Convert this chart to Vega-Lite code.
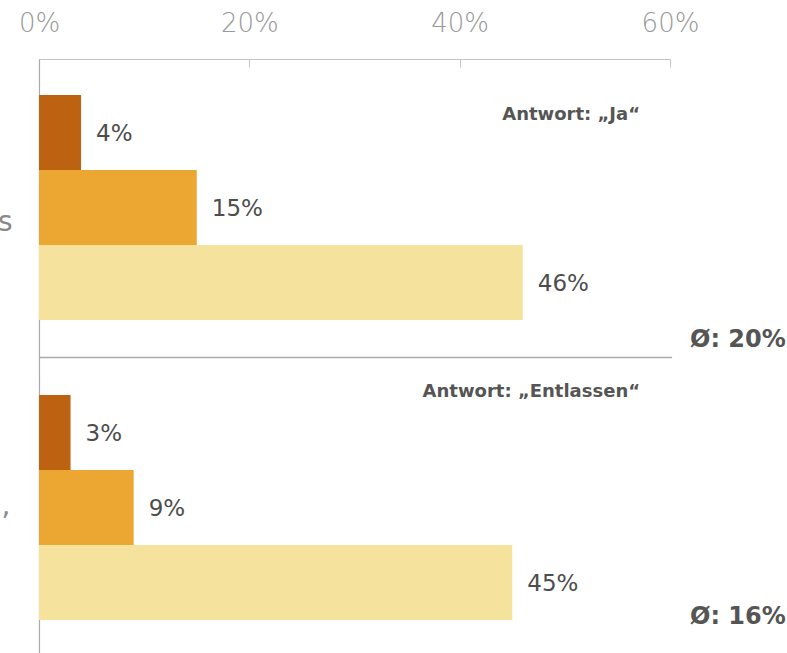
{
  "$schema": "https://vega.github.io/schema/vega-lite/v6.json",
  "width": 631,
  "height": 594,
  "autosize": {"type": "none"},
  "padding": {"left": 39, "top": 59, "right": 117, "bottom": 0},
  "background": "white",
  "config": {"view": {"stroke": null}, "font": "DejaVu Sans"},
  "data": {
    "values": [
      {"question": "Ja", "row": "a1", "level": "1", "share": 0.04},
      {"question": "Ja", "row": "a2", "level": "2", "share": 0.15},
      {"question": "Ja", "row": "a3", "level": "3", "share": 0.46},
      {"question": "Entlassen", "row": "b1", "level": "1", "share": 0.03},
      {"question": "Entlassen", "row": "b2", "level": "2", "share": 0.09},
      {"question": "Entlassen", "row": "b3", "level": "3", "share": 0.45}
    ]
  },
  "layer": [
    {
      "mark": {"type": "bar"},
      "encoding": {
        "y": {
          "field": "row",
          "type": "nominal",
          "scale": {"domain": ["a1", "a2", "a3", "gap", "b1", "b2", "b3"], "paddingInner": 0, "paddingOuter": 0.46, "align": 0.52},
          "axis": {
            "title": null,
            "domainColor": "#aaaaaa",
            "domainWidth": 1.2,
            "ticks": false,
            "labelExpr": "datum.value == 'a2' ? 'Präsentismus' : datum.value == 'b2' ? 'Angst vor dem Entlassen,' : ''",
            "labelFont": "DejaVu Sans",
            "labelFontSize": 28,
            "labelColor": "#888888",
            "labelLimit": 2000,
            "labelOverlap": false,
            "labelBound": false,
            "labelPadding": {"condition": {"test": "datum.value == 'a2'", "value": 27}, "value": 29},
            "labelOffset": {"condition": {"test": "datum.value == 'a2'", "value": 16}, "value": 0}
          }
        },
        "x": {
          "field": "share",
          "type": "quantitative",
          "scale": {"domain": [0, 0.6], "nice": false},
          "axis": {
            "orient": "top",
            "title": null,
            "values": [0, 0.2, 0.4, 0.6],
            "format": ".0%",
            "grid": false,
            "domainColor": "#c4c4c4",
            "tickColor": "#c4c4c4",
            "tickSize": -8,
            "labelFont": "DejaVu Sans",
            "labelFontWeight": 200,
            "labelFontSize": 26,
            "labelColor": "#999999",
            "labelPadding": 31,
            "labelFlush": false,
            "labelBound": false,
            "labelOverlap": false
          }
        },
        "color": {
          "field": "level",
          "type": "nominal",
          "scale": {"domain": ["1", "2", "3"], "range": ["#BC6210", "#EBA731", "#F5E29C"]},
          "legend": null
        }
      }
    },
    {
      "mark": {"type": "text", "align": "left", "baseline": "middle", "dx": 15, "dy": 2, "font": "DejaVu Sans", "fontSize": 23, "color": "#4d4d4d"},
      "encoding": {
        "y": {"field": "row", "type": "nominal"},
        "x": {"field": "share", "type": "quantitative"},
        "text": {"field": "share", "type": "quantitative", "format": ".0%"}
      }
    },
    {
      "data": {"values": [{}]},
      "mark": {"type": "rule", "color": "#aaaaaa", "strokeWidth": 1.5},
      "encoding": {
        "y": {"datum": "gap", "type": "nominal"},
        "x": {"datum": 0, "type": "quantitative"},
        "x2": {"datum": 0.602}
      }
    },
    {
      "data": {"values": [{}]},
      "mark": {"type": "text", "align": "right", "baseline": "middle", "dy": -17, "font": "DejaVu Sans", "fontWeight": "bold", "fontSize": 18, "color": "#555555", "text": "Antwort: „Ja“"},
      "encoding": {
        "x": {"datum": 0.5715, "type": "quantitative"},
        "y": {"datum": "a1", "type": "nominal"}
      }
    },
    {
      "data": {"values": [{}]},
      "mark": {"type": "text", "align": "right", "baseline": "middle", "dy": 35, "font": "DejaVu Sans", "fontWeight": "bold", "fontSize": 18, "color": "#555555", "text": "Antwort: „Entlassen“"},
      "encoding": {
        "x": {"datum": 0.5715, "type": "quantitative"},
        "y": {"datum": "gap", "type": "nominal"}
      }
    },
    {
      "data": {"values": [{}]},
      "mark": {"type": "text", "align": "left", "baseline": "middle", "dy": -17, "font": "DejaVu Sans", "fontWeight": "bold", "fontSize": 24, "color": "#555555", "text": "Ø: 20%"},
      "encoding": {
        "x": {"datum": 0.619, "type": "quantitative"},
        "y": {"datum": "gap", "type": "nominal"}
      }
    },
    {
      "data": {"values": [{}]},
      "mark": {"type": "text", "align": "left", "baseline": "middle", "dy": 35, "font": "DejaVu Sans", "fontWeight": "bold", "fontSize": 24, "color": "#555555", "text": "Ø: 16%"},
      "encoding": {
        "x": {"datum": 0.619, "type": "quantitative"},
        "y": {"datum": "b3", "type": "nominal"}
      }
    }
  ]
}
